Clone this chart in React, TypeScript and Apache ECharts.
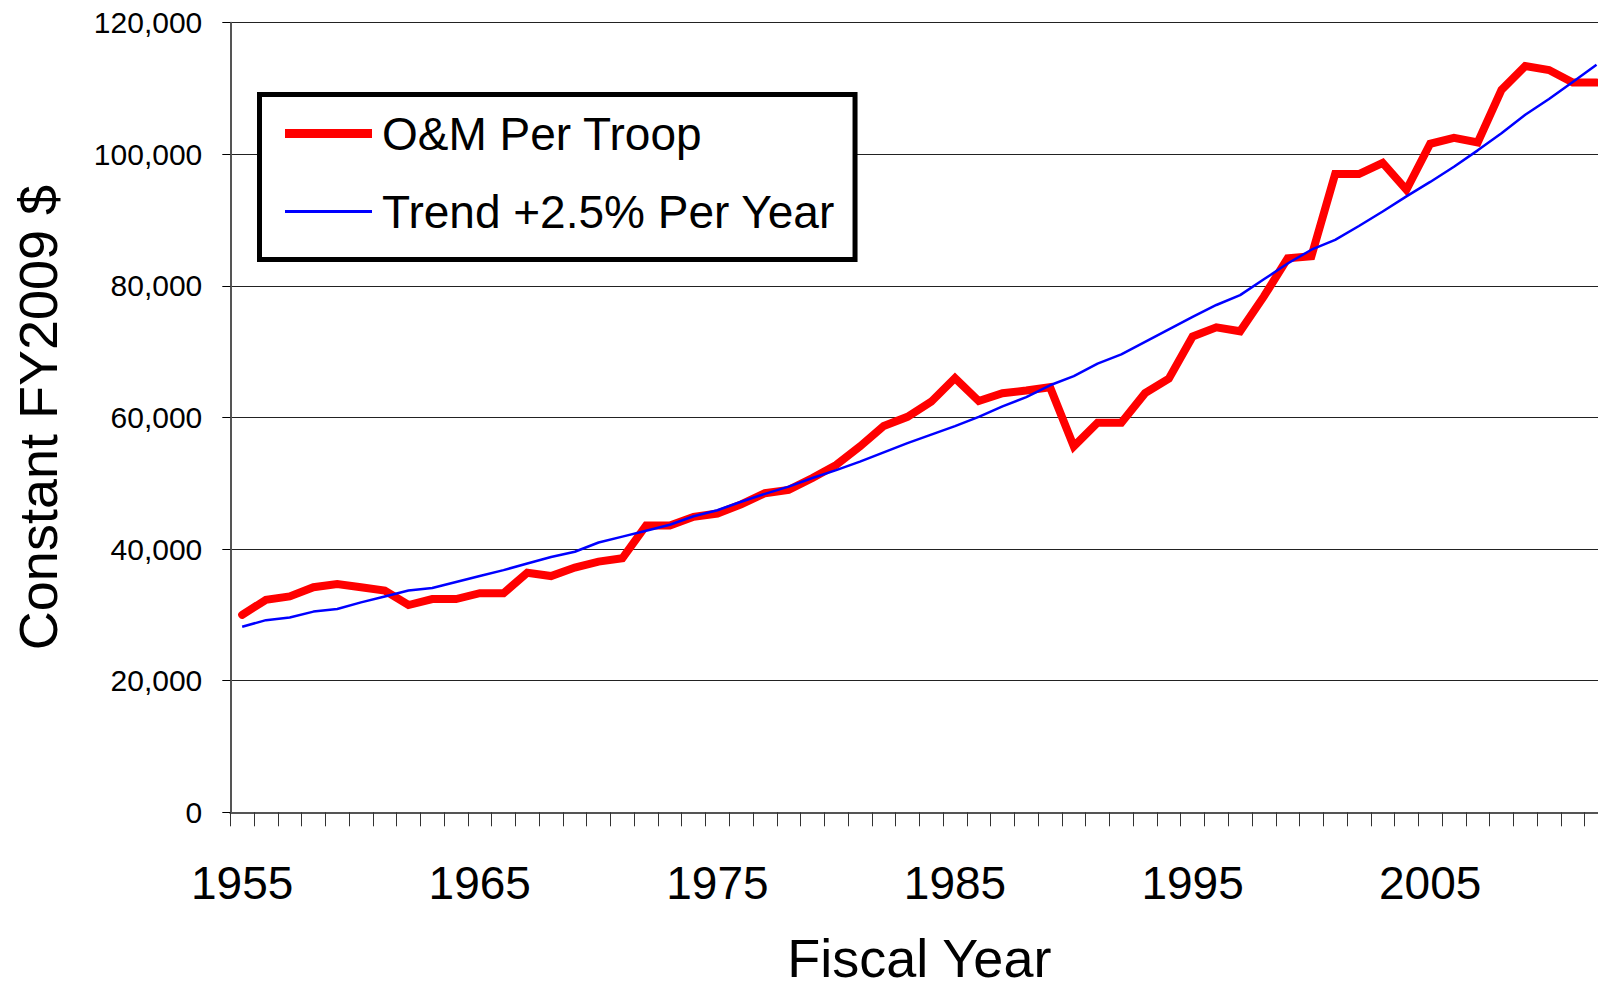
import React, { useEffect, useRef } from "react";
import * as echarts from "echarts";

const years = [
  "1955", "1956", "1957", "1958", "1959", "1960", "1961", "1962", "1963", "1964",
  "1965", "1966", "1967", "1968", "1969", "1970", "1971", "1972", "1973", "1974",
  "1975", "1976", "1977", "1978", "1979", "1980", "1981", "1982", "1983", "1984",
  "1985", "1986", "1987", "1988", "1989", "1990", "1991", "1992", "1993", "1994",
  "1995", "1996", "1997", "1998", "1999", "2000", "2001", "2002", "2003", "2004",
  "2005", "2006", "2007", "2008", "2009", "2010", "2011", "2012",
];

const omPerTroop = [
  30000, 32300, 32800, 34200, 34700, 34200, 33700, 31500, 32400, 32400,
  33300, 33300, 36400, 35900, 37200, 38100, 38600, 43600, 43600, 44900,
  45400, 46800, 48500, 49000, 50800, 52800, 55600, 58700, 60100, 62400,
  66000, 62500, 63700, 64100, 64600, 55600, 59200, 59200, 63700, 65900,
  72300, 73700, 73100, 78400, 84200, 84500, 97000, 97000, 98700, 94600,
  101600, 102500, 101800, 109800, 113400, 112800, 110900, 110900,
];

const trend = [
  28200, 29200, 29600, 30500, 30900, 31900, 32800, 33700, 34100, 35000,
  35900, 36800, 37800, 38800, 39600, 41000, 41900, 42800, 43700, 45000,
  45900, 47200, 48400, 49500, 50800, 52000, 53300, 54700, 56100, 57400,
  58700, 60100, 61700, 63100, 64900, 66300, 68200, 69600, 71500, 73400,
  75300, 77100, 78600, 81000, 83400, 85500, 87000, 89100, 91300, 93600,
  95800, 98100, 100600, 103200, 106000, 108400, 111000, 113600,
];

const seriesNames = ["O&M Per Troop", "Trend +2.5% Per Year"];
const yAxisTitle = "Constant FY2009 $";
const xAxisTitle = "Fiscal Year";

const FONT = "'Liberation Sans', Arial, Helvetica, sans-serif";

export default function App() {
  const ref = useRef<HTMLDivElement>(null);

  useEffect(() => {
    if (!ref.current) return;
    const chart = echarts.init(ref.current, null, { renderer: "svg" });
    chart.setOption({
      animation: false,
      backgroundColor: "#ffffff",
      textStyle: { fontFamily: FONT },
      grid: {
        left: 230.3,
        right: -10.4,
        top: 22.7,
        bottom: 175.7,
        containLabel: false,
        outerBoundsMode: "none",
      },
      legend: {
        show: true,
        orient: "vertical",
        left: 259.5,
        top: 94.5,
        borderColor: "#000000",
        borderWidth: 5,
        padding: [16, 20, 25, 25.5],
        itemGap: 32,
        itemWidth: 87,
        itemHeight: 20,
        backgroundColor: "#ffffff",
        textStyle: { fontSize: 46, color: "#000000", fontFamily: FONT, padding: [0, 0, 0, 5] },
        data: [
          { name: seriesNames[0], icon: "path://M0,0H87V9H0Z", itemStyle: { color: "#ff0000" } },
          { name: seriesNames[1], icon: "path://M0,0H82V3H0Z", itemStyle: { color: "#0000ff" } },
        ],
      },
      xAxis: {
        type: "category",
        data: years,
        boundaryGap: true,
        name: xAxisTitle,
        nameLocation: "middle",
        nameGap: 119,
        nameTextStyle: { fontSize: 54, color: "#000000", fontFamily: FONT },
        axisLine: { show: true, lineStyle: { color: "#555555", width: 2 } },
        axisTick: { show: true, interval: 0, length: 14, lineStyle: { color: "#333333", width: 1 } },
        axisLabel: { interval: 9, fontSize: 46, color: "#000000", margin: 48, fontFamily: FONT },
        splitLine: { show: false },
      },
      yAxis: {
        type: "value",
        min: 0,
        max: 120000,
        interval: 20000,
        name: yAxisTitle,
        nameLocation: "middle",
        nameRotate: 90,
        nameGap: 165,
        nameTextStyle: { fontSize: 54, color: "#000000", fontFamily: FONT },
        axisLine: { show: true, lineStyle: { color: "#555555", width: 2 } },
        axisTick: { show: true, length: 8, lineStyle: { color: "#000000", width: 1 } },
        axisLabel: {
          fontSize: 30,
          color: "#000000",
          margin: 28,
          fontFamily: FONT,
          formatter: (v: number) => v.toLocaleString("en-US"),
        },
        splitLine: { show: true, lineStyle: { color: "#222222", width: 1 } },
      },
      series: [
        {
          name: seriesNames[0],
          type: "line",
          data: omPerTroop,
          symbol: "none",
          showSymbol: false,
          z: 2,
          lineStyle: { color: "#ff0000", width: 8, cap: "round", join: "miter" },
          itemStyle: { color: "#ff0000" },
        },
        {
          name: seriesNames[1],
          type: "line",
          data: trend,
          symbol: "none",
          showSymbol: false,
          z: 3,
          lineStyle: { color: "#0000ff", width: 2.5 },
          itemStyle: { color: "#0000ff" },
        },
      ],
    });
    return () => chart.dispose();
  }, []);

  return (
    <div
      ref={ref}
      style={{ position: "fixed", left: 0, top: 0, width: 1598, height: 988, background: "#fff" }}
    />
  );
}
